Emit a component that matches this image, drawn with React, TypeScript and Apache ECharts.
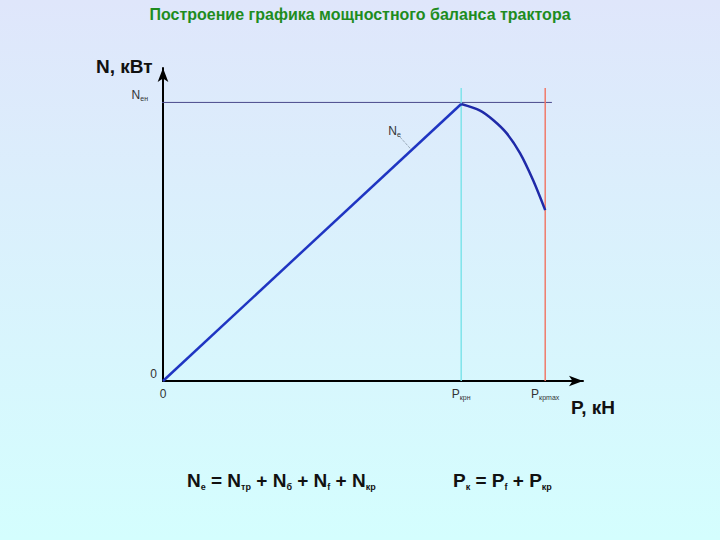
import React, { useEffect, useRef } from "react";
import * as echarts from "echarts";

const TITLE = "Построение графика мощностного баланса трактора";
const Y_NAME = "N, кВт";
const X_NAME = "P, кН";

// Ne curve: linear rise to the peak, then falling branch
const riseP = [0, 71];
const riseN = [0, 88.5];
const fallP = [71, 75.5, 78.6, 81.8, 85, 88.1, 91];
const fallN = [88.5, 86.4, 83.4, 79.2, 72.8, 64.2, 54.6];

// Guide lines
const nMaxLineP = [-2.6, 92.6];
const nMaxValue = 89;
const pNominal = 71;
const pMax = 91;
const guideTop = 93.6;

// Ne leader line
const neLeaderP = [56.4, 59];
const neLeaderN = [78, 74.1];

// Tick labels
const xTickValues = [0, 71, 91];
const xTickMain = ["0", "P", "P"];
const xTickSub = ["", "крн", "крmax"];
const yTickValues = [0, 89];
const yTickMain = ["0", "N"];
const yTickSub = ["", "ен"];

// Formulas
const formula1 = [["N", "е"], [" = N", "тр"], [" + N", "б"], [" + N", "f"], [" + N", "кр"]];
const formula2 = [["P", "к"], [" = P", "f"], [" + P", "кр"]];

const FONT = "'Liberation Sans', Arial, sans-serif";

const zip = (a: number[], b: number[]) => a.map((v, i) => [v, b[i]]);
const rich = (parts: string[][]) =>
  parts.map(([m, s]) => `{n|${m}}` + (s ? `{s|${s}}` : "")).join("");

export default function App() {
  const ref = useRef<HTMLDivElement>(null);
  useEffect(() => {
    if (!ref.current) return;
    const chart = echarts.init(ref.current, undefined, { renderer: "svg" });
    const tickRich = {
      m: { fontSize: 12, color: "#333", fontFamily: FONT, lineHeight: 14 },
      s: { fontSize: 7, color: "#333", fontFamily: FONT, verticalAlign: "bottom", lineHeight: 7 },
      t: { fontSize: 7, color: "#333", fontFamily: FONT, verticalAlign: "bottom", lineHeight: 7, padding: [0, 9, 0, 0] },
    };
    const formulaRich = {
      n: { fontSize: 19, fontWeight: "bold", color: "#111", fontFamily: FONT, lineHeight: 21 },
      s: { fontSize: 9, fontWeight: "bold", color: "#111", fontFamily: FONT, verticalAlign: "bottom", lineHeight: 8 },
    };
    chart.setOption({
      animation: false,
      backgroundColor: {
        type: "linear",
        x: 0, y: 0, x2: 0, y2: 1,
        colorStops: [
          { offset: 0, color: "#dfe6fb" },
          { offset: 1, color: "#d4fefe" },
        ],
      },
      title: [
        {
          text: TITLE, left: "center", top: 6, padding: 0,
          textStyle: { color: "#1e8c1e", fontSize: 16, fontWeight: "bold", fontFamily: FONT },
        },
        {
          text: Y_NAME, left: 96, top: 55, padding: 0,
          textStyle: { color: "#111", fontSize: 19, fontWeight: "bold", fontFamily: FONT, lineHeight: 22 },
        },
        {
          text: X_NAME, left: 571, top: 396, padding: 0,
          textStyle: { color: "#111", fontSize: 19, fontWeight: "bold", fontFamily: FONT, lineHeight: 22 },
        },
        {
          text: rich(formula1), left: 187, top: 470, padding: 0,
          textStyle: { rich: formulaRich },
        },
        {
          text: rich(formula2), left: 453, top: 470, padding: 0,
          textStyle: { rich: formulaRich },
        },
      ],
      grid: { left: 163, top: 68, right: 137, bottom: 159 },
      xAxis: {
        type: "value", min: 0, max: 100,
        splitLine: { show: false },
        axisTick: { show: false },
        axisLine: {
          show: true, lineStyle: { color: "#000", width: 2 },
          symbol: ["none", "arrow"], symbolSize: [8, 14],
        },
        axisLabel: {
          customValues: xTickValues,
          margin: 6,
          formatter: (v: number) => {
            const i = xTickValues.indexOf(v);
            if (i < 0) return "";
            return `{m|${xTickMain[i]}}` + (xTickSub[i] ? `{s|${xTickSub[i]}}` : "");
          },
          rich: tickRich,
        },
      },
      yAxis: {
        type: "value", min: 0, max: 100,
        splitLine: { show: false },
        axisTick: { show: false },
        axisLine: {
          show: true, lineStyle: { color: "#000", width: 2 },
          symbol: ["none", "arrow"], symbolSize: [8, 14],
        },
        axisLabel: {
          customValues: yTickValues,
          margin: 6,
          verticalAlign: "bottom",
          formatter: (v: number) => {
            const i = yTickValues.indexOf(v);
            if (i < 0) return "";
            return `{m|${yTickMain[i]}}` + (yTickSub[i] ? `{t|${yTickSub[i]}}` : "");
          },
          rich: tickRich,
        },
      },
      series: [
        {
          type: "line", clip: false, symbol: "none",
          data: zip(nMaxLineP, [nMaxValue, nMaxValue]),
          lineStyle: { color: "#4a4a8c", width: 1 },
          silent: true,
        },
        {
          type: "line", symbol: "none",
          data: [[pNominal, 0], [pNominal, guideTop]],
          lineStyle: { color: "#7fe3ea", width: 1.5 },
        },
        {
          type: "line", symbol: "none",
          data: [[pMax, 0], [pMax, guideTop]],
          lineStyle: { color: "#f07a6a", width: 1.5 },
        },
        {
          type: "line", symbol: "none",
          data: zip(riseP, riseN),
          lineStyle: { color: "#1f35c2", width: 2.5 },
          markLine: {
            silent: true,
            symbol: ["none", "none"],
            lineStyle: { type: "dotted", color: "#7a8a9a", width: 1 },
            label: {
              position: "start",
              distance: 8,
              formatter: "{m|N}{s|е}",
              rich: tickRich,
            },
            data: [[
              { coord: [neLeaderP[0], neLeaderN[0]] },
              { coord: [neLeaderP[1], neLeaderN[1]] },
            ]],
          },
        },
        {
          type: "line", symbol: "none", smooth: 0.3,
          data: zip(fallP, fallN),
          lineStyle: { color: "#1f2aa8", width: 2.5 },
        },
      ],
    });
    return () => chart.dispose();
  }, []);
  return (
    <div
      ref={ref}
      style={{ position: "fixed", left: 0, top: 0, width: 720, height: 540 }}
    />
  );
}
